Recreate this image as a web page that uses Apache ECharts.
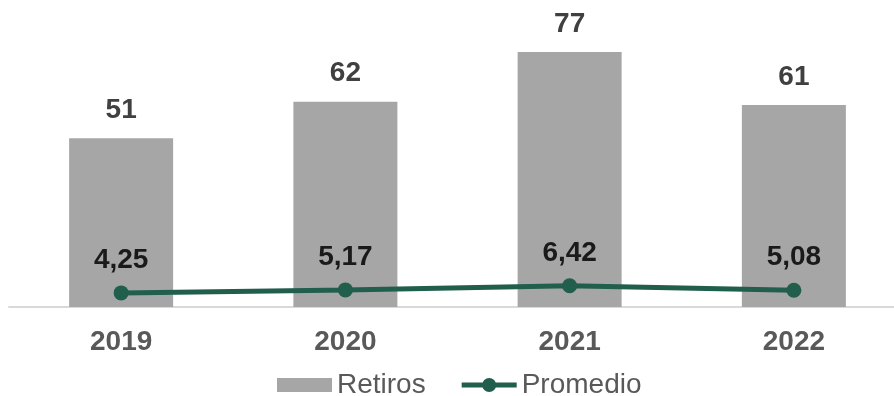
<!DOCTYPE html>
<html>
<head>
<meta charset="utf-8">
<script src="https://cdn.jsdelivr.net/npm/echarts@6/dist/echarts.min.js"></script>
<style>
  html, body { margin: 0; padding: 0; background: #fff; overflow: hidden; }
  #chart { width: 910px; height: 396px; }
</style>
</head>
<body>
<div id="chart"></div>
<script>
// Yearly withdrawals (bars) and the average (line), both on one value axis
const years = ['2019', '2020', '2021', '2022'];
const retiros = [51, 62, 77, 61];
const promedio = [4.25, 5.17, 6.42, 5.08];

const FONT = '"Liberation Sans", Arial, sans-serif';
const GREEN = '#215e4c';
const fmtComma = v => v.toFixed(2).replace('.', ',');

// Legend glyph for the line: thick stroke with a dot in the middle (55 x 14 box)
const LINE_DOT_ICON = 'path://M0,4.5 H21 V9.5 H0 Z M34,4.5 H55 V9.5 H34 Z ' +
  'M20.5,7 A7,7 0 1,1 34.5,7 A7,7 0 1,1 20.5,7 Z';

const chart = echarts.init(document.getElementById('chart'));
chart.setOption({
  animation: false,
  textStyle: { fontFamily: FONT },
  grid: { left: 9, top: 9, right: 4, bottom: 89, containLabel: false },
  legend: {
    left: 272,
    top: 366,
    itemGap: 36,
    itemWidth: 55,
    itemHeight: 14,
    textStyle: { fontSize: 28, color: '#595959', fontFamily: FONT },
    data: [
      { name: 'Retiros', icon: 'rect' },
      { name: 'Promedio', icon: LINE_DOT_ICON, itemStyle: { color: GREEN } }
    ]
  },
  xAxis: {
    type: 'category',
    data: years,
    axisLine: { lineStyle: { color: '#d9d9d9', width: 2 } },
    axisTick: { show: false },
    axisLabel: { margin: 21, fontSize: 28, fontWeight: 'bold', color: '#595959', fontFamily: FONT }
  },
  yAxis: {
    type: 'value',
    min: 0,
    max: 90,
    show: false,
    splitLine: { show: false }
  },
  series: [
    {
      name: 'Retiros',
      type: 'bar',
      data: retiros,
      barWidth: 104,
      itemStyle: { color: '#a6a6a6' },
      label: {
        show: true,
        position: 'top',
        distance: 14,
        fontSize: 28,
        fontWeight: 'bold',
        color: '#404040',
        fontFamily: FONT
      }
    },
    {
      name: 'Promedio',
      type: 'line',
      data: promedio,
      symbol: 'circle',
      symbolSize: 15,
      lineStyle: { color: GREEN, width: 5 },
      itemStyle: { color: GREEN },
      label: {
        show: true,
        position: 'top',
        distance: 11,
        fontSize: 28,
        fontWeight: 'bold',
        color: '#1a1a1a',
        fontFamily: FONT,
        formatter: p => fmtComma(p.value)
      }
    }
  ]
});
</script>
</body>
</html>
